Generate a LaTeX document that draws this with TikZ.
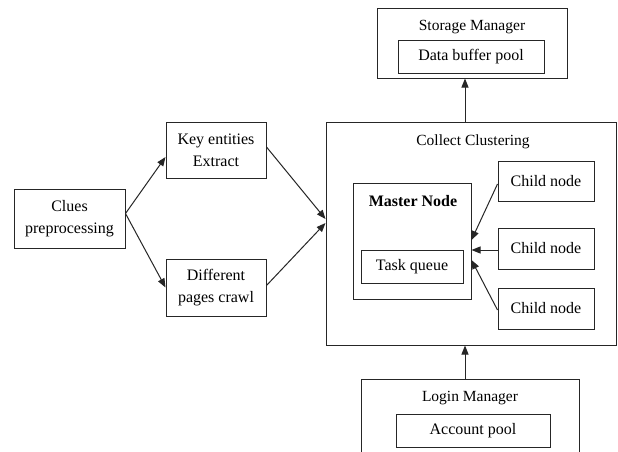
\documentclass[tikz,border=0pt]{standalone}
\usepackage{fontspec}
\setmainfont{Liberation Serif}
\usetikzlibrary{arrows.meta}
\begin{document}
\begin{tikzpicture}[x=1pt,y=-1pt,
  box/.style={draw=black!85, line width=1pt, rectangle, inner sep=0pt, align=center, font=\fontsize{16}{19}\selectfont},
  lbl/.style={inner sep=0pt, font=\fontsize{15.5}{18}\selectfont},
  arr/.style={draw=black!85, line width=1pt, -{Triangle[length=9pt,width=7pt]}}]
\clip (0,0) rectangle (618,452);
\fill[white] (0,0) rectangle (618,452);
% left part
\node[box, minimum width=111pt, minimum height=59pt] (clues) at (69.5,218.5) {Clues\\[3pt]preprocessing};
\node[box, minimum width=100pt, minimum height=56pt] (key) at (216,150) {Key entities\\[3pt]Extract};
\node[box, minimum width=100pt, minimum height=57pt] (diff) at (216,287.5) {Different\\[3pt]pages crawl};
% collect clustering
\node[box, minimum width=290.5pt, minimum height=223pt] (cc) at (471.25,233.5) {};
\node[lbl] (cctitle) at (473,142) {Collect Clustering};
\node[box, minimum width=118pt, minimum height=116pt] (master) at (412,241) {};
\node[lbl, font=\fontsize{16}{19}\selectfont\bfseries] (mtitle) at (413,201) {Master Node};
\node[box, minimum width=102pt, minimum height=33pt] (task) at (412,266.5) {Task queue};
\node[box, minimum width=96pt, minimum height=40pt] (c1) at (546,181) {Child node};
\node[box, minimum width=96pt, minimum height=41pt] (c2) at (546,248.5) {Child node};
\node[box, minimum width=96pt, minimum height=41pt] (c3) at (546,308.5) {Child node};
% storage manager
\node[box, minimum width=190pt, minimum height=69pt] (storage) at (472,43.5) {};
\node[lbl] (stitle) at (472,27) {Storage Manager};
\node[box, minimum width=146pt, minimum height=32pt] (dbp) at (471,57) {Data buffer pool};
% login manager
\node[box, minimum width=218pt, minimum height=100pt] (login) at (470,429) {};
\node[lbl] (ltitle) at (470,398) {Login Manager};
\node[box, minimum width=154pt, minimum height=33pt] (acc) at (473,430.5) {Account pool};
% arrows
\draw[arr] ([yshift=5pt]clues.east) -- ([yshift=-7pt]key.west);
\draw[arr] ([yshift=5pt]clues.east) -- (diff.west);
\draw[arr] ([yshift=3pt]key.east) -- ([yshift=14.5pt]cc.west);
\draw[arr] ([yshift=2pt]diff.east) -- ([yshift=10.5pt]cc.west);
\draw[arr] ([yshift=-3pt]c1.west) -- ([yshift=1pt]master.east);
\draw[arr] ([yshift=-1.5pt]c2.west) -- ([yshift=-9pt]master.east);
\draw[arr] ([yshift=-1.5pt]c3.west) -- ([yshift=-19pt]master.east);
\draw[arr] ([xshift=-6.25pt]cc.north) -- ([xshift=-7pt]storage.south);
\draw[arr] ([xshift=-5pt]login.north) -- ([xshift=-6.25pt]cc.south);
\end{tikzpicture}
\end{document}
